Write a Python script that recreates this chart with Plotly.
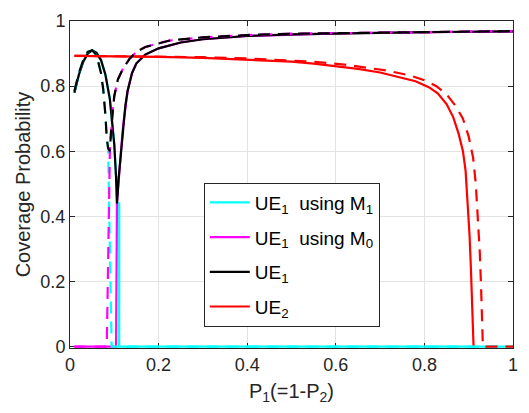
import plotly.graph_objects as go

# UE1 coverage, solid case (combined, then per-mode)
x_ue1 = [0.01, 0.02, 0.03, 0.04, 0.05, 0.06, 0.07, 0.08, 0.09, 0.095, 0.10, 0.104, 0.106,
         0.11, 0.115, 0.12, 0.125, 0.13, 0.14, 0.15, 0.17, 0.20, 0.25, 0.30, 0.40, 0.50,
         0.60, 0.70, 0.80, 0.90, 1.00]
y_ue1 = [0.78, 0.835, 0.875, 0.90, 0.91, 0.902, 0.88, 0.835, 0.76, 0.70, 0.62, 0.52, 0.44,
         0.52, 0.60, 0.68, 0.74, 0.785, 0.84, 0.87, 0.897, 0.916, 0.934, 0.944, 0.954, 0.959,
         0.962, 0.964, 0.966, 0.967, 0.968]

x_m1 = [0.01, 0.02, 0.03, 0.04, 0.05, 0.06, 0.07, 0.08, 0.09, 0.095, 0.10, 0.104, 0.106,
        0.111, 0.111, 1.00]
y_m1 = [0.78, 0.835, 0.875, 0.90, 0.91, 0.902, 0.88, 0.835, 0.76, 0.70, 0.62, 0.52, 0.44,
        0.44, 0.0, 0.0]

x_m0 = [0.01, 0.104, 0.106, 0.11, 0.115, 0.12, 0.125, 0.13, 0.14, 0.15, 0.17, 0.20, 0.25,
        0.30, 0.40, 0.50, 0.60, 0.70, 0.80, 0.90, 1.00]
y_m0 = [0.0, 0.0, 0.44, 0.52, 0.60, 0.68, 0.74, 0.785, 0.84, 0.87, 0.897, 0.916, 0.934,
        0.944, 0.954, 0.959, 0.962, 0.964, 0.966, 0.967, 0.968]

# UE1 coverage, dashed case
x_ue1_d = [0.01, 0.02, 0.03, 0.04, 0.05, 0.06, 0.07, 0.075, 0.08, 0.083, 0.086, 0.09,
           0.093, 0.097, 0.10, 0.108, 0.12, 0.135, 0.15, 0.17, 0.20, 0.225, 0.30, 0.40,
           0.50, 0.60, 0.70, 0.80, 0.90, 1.00]
y_ue1_d = [0.785, 0.84, 0.88, 0.905, 0.91, 0.895, 0.84, 0.79, 0.71, 0.64, 0.61, 0.60,
           0.67, 0.74, 0.77, 0.82, 0.855, 0.885, 0.905, 0.92, 0.932, 0.94, 0.95, 0.957,
           0.961, 0.963, 0.965, 0.967, 0.968, 0.969]

x_m1_d = [0.01, 0.02, 0.03, 0.04, 0.05, 0.06, 0.07, 0.075, 0.08, 0.083, 0.086, 0.094, 1.00]
y_m1_d = [0.785, 0.84, 0.88, 0.905, 0.91, 0.895, 0.84, 0.79, 0.71, 0.64, 0.61, 0.0, 0.0]

x_m0_d = [0.01, 0.083, 0.09, 0.093, 0.097, 0.10, 0.108, 0.12, 0.135, 0.15, 0.17, 0.20,
          0.225, 0.30, 0.40, 0.50, 0.60, 0.70, 0.80, 0.90, 1.00]
y_m0_d = [0.0, 0.0, 0.60, 0.67, 0.74, 0.77, 0.82, 0.855, 0.885, 0.905, 0.92, 0.932,
          0.94, 0.95, 0.957, 0.961, 0.963, 0.965, 0.967, 0.968, 0.969]

# UE2 coverage
x_ue2 = [0.01, 0.10, 0.20, 0.30, 0.40, 0.45, 0.50, 0.55, 0.60, 0.65, 0.70, 0.745, 0.78,
         0.81, 0.83, 0.85, 0.865, 0.877, 0.887, 0.893, 0.898, 0.902, 0.905, 0.908, 0.911]
y_ue2 = [0.893, 0.892, 0.89, 0.887, 0.882, 0.879, 0.875, 0.869, 0.862, 0.853, 0.842,
         0.828, 0.815, 0.797, 0.778, 0.745, 0.705, 0.655, 0.60, 0.54, 0.44, 0.34, 0.24,
         0.12, 0.0]

x_ue2_d = [0.01, 0.10, 0.20, 0.30, 0.40, 0.47, 0.55, 0.62, 0.715, 0.767, 0.80, 0.827,
           0.85, 0.87, 0.887, 0.90, 0.91, 0.916, 0.921, 0.925, 0.928, 0.932, 1.00]
y_ue2_d = [0.893, 0.892, 0.891, 0.889, 0.885, 0.881, 0.875, 0.866, 0.848, 0.833, 0.818,
           0.80, 0.775, 0.74, 0.70, 0.645, 0.58, 0.50, 0.40, 0.29, 0.18, 0.0, 0.0]

x_ticks = [0, 0.2, 0.4, 0.6, 0.8, 1]
x_tick_text = ["0", "0.2", "0.4", "0.6", "0.8", "1"]
y_ticks = [0, 0.2, 0.4, 0.6, 0.8, 1]
y_tick_text = ["0", "0.2", "0.4", "0.6", "0.8", "1"]

CYAN, MAGENTA, BLACK, RED = "#00FFFF", "#FF00FF", "#000000", "#FF0000"
LW = 2.2
DASH = "12px,8px"

fig = go.Figure()

solid = [
    (x_m1, y_m1, CYAN, "UE<sub>1</sub>  using M<sub>1</sub>"),
    (x_m0, y_m0, MAGENTA, "UE<sub>1</sub>  using M<sub>0</sub>"),
    (x_ue1, y_ue1, BLACK, "UE<sub>1</sub>"),
    (x_ue2, y_ue2, RED, "UE<sub>2</sub>"),
]
for i, (xs, ys, c, name) in enumerate(solid):
    fig.add_trace(go.Scatter(x=xs, y=ys, mode="lines", name=name,
                             legendgroup=f"g{i}",
                             line=dict(color=c, width=LW)))

dashed = [
    (x_m1_d, y_m1_d, CYAN),
    (x_m0_d, y_m0_d, MAGENTA),
    (x_ue1_d, y_ue1_d, BLACK),
    (x_ue2_d, y_ue2_d, RED),
]
for xs, ys, c in dashed:
    fig.add_trace(go.Scatter(x=xs, y=ys, mode="lines", showlegend=False,
                             line=dict(color=c, width=LW, dash=DASH)))

AX = "#262626"
axis_common = dict(
    showline=True, linecolor=AX, linewidth=1, mirror="ticks",
    ticks="inside", ticklen=5, tickcolor=AX, tickwidth=1,
    showgrid=True, gridcolor="#E3E3E3", gridwidth=1,
    zeroline=False, layer="below traces",
    tickfont=dict(family="Liberation Sans", size=18, color=AX),
)

fig.update_layout(
    width=529, height=413,
    margin=dict(l=70, r=11, t=12, b=65),
    paper_bgcolor="white", plot_bgcolor="white",
    font=dict(family="Liberation Sans", color=AX),
    xaxis=dict(range=[0, 1], tickvals=x_ticks, ticktext=x_tick_text,
               title=dict(text="P<sub>1</sub>(=1-P<sub>2</sub>)",
                          font=dict(size=20, color=AX), standoff=10),
               **axis_common),
    yaxis=dict(range=[-0.004, 1], tickvals=y_ticks, ticktext=y_tick_text,
               title=dict(text="Coverage Probability",
                          font=dict(size=20, color=AX), standoff=4),
               **axis_common),
    legend=dict(x=0.302, y=0.506, xanchor="left", yanchor="top",
                bgcolor="white", bordercolor=AX, borderwidth=1,
                font=dict(family="Liberation Sans", size=19, color="black"),
                tracegroupgap=7, itemwidth=40),
    showlegend=True,
)

fig.write_html("out.html")
